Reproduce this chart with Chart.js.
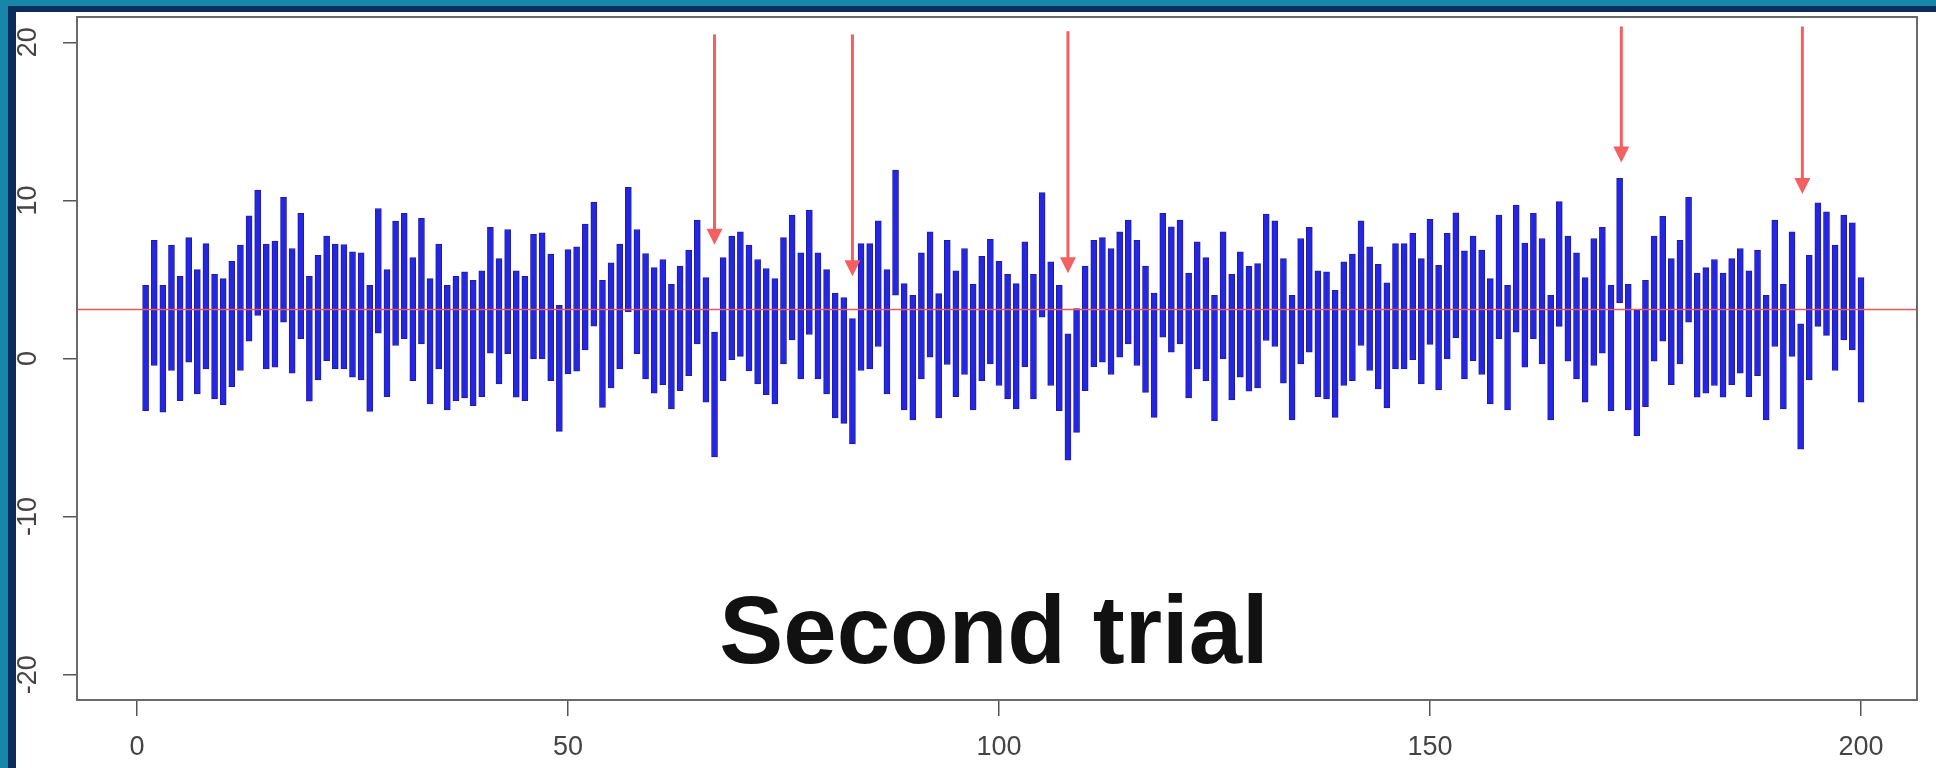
<!DOCTYPE html>
<html>
<head>
<meta charset="utf-8">
<script src="https://cdn.jsdelivr.net/npm/chart.js@4"></script>
<style>
  html, body { margin: 0; padding: 0; }
  body { width: 1936px; height: 768px; position: relative; overflow: hidden; background: #0b2d5b; }
  #edgeLeft { position: absolute; left: 0; top: 0; width: 8px; height: 768px; background: #1786a8; }
  #edgeTop { position: absolute; left: 0; top: 0; width: 1936px; height: 6px; background: #1786a8; }
  #panel { position: absolute; left: 16px; top: 12px; right: 0; bottom: 0; background: #fff; }
  #chart { position: absolute; left: 0; top: 0; }
  #title { position: absolute; left: 994px; top: 582px; transform: translateX(-50%);
           font: bold 96px "Liberation Sans", Arial, sans-serif; line-height: 96px; color: #111; white-space: nowrap; }
</style>
</head>
<body>
<div id="edgeLeft"></div>
<div id="edgeTop"></div>
<div id="panel"></div>
<canvas id="chart" width="1936" height="768"></canvas>
<div id="title">Second trial</div>
<script>
const highs = [
  4.63, 7.48, 4.63, 7.17, 5.2, 7.65, 5.62, 7.27, 5.33, 5.05,
  6.15, 7.17, 9.03, 10.66, 7.23, 7.42, 10.19, 6.96, 9.18, 5.2,
  6.53, 7.74, 7.23, 7.21, 6.74, 6.68, 4.63, 9.49, 5.62, 8.69,
  9.18, 6.38, 8.86, 5.05, 7.23, 4.63, 5.2, 5.48, 4.95, 5.54,
  8.29, 6.32, 8.16, 5.54, 5.2, 7.86, 7.95, 6.6, 3.36, 6.89,
  7.06, 8.5, 9.9, 4.95, 6.05, 7.23, 10.82, 8.16, 6.64, 5.75,
  6.26, 4.69, 5.84, 6.85, 8.75, 5.12, 1.67, 6.38, 7.74, 8.01,
  7.17, 6.26, 5.69, 5.05, 7.65, 9.07, 6.68, 9.39, 6.68, 5.62,
  4.14, 3.85, 2.52, 7.27, 7.27, 8.71, 5.62, 11.92, 4.74, 4.0,
  6.68, 8.01, 4.1, 7.48, 5.54, 6.96, 4.69, 6.47, 7.53, 6.15,
  5.33, 4.74, 7.38, 5.33, 10.49, 6.11, 4.63, 1.56, 3.15, 5.84,
  7.48, 7.65, 6.96, 8.01, 8.75, 7.48, 5.84, 4.14, 9.18, 8.33,
  8.75, 5.41, 7.38, 6.38, 4.0, 8.01, 5.33, 6.74, 5.84, 6.0,
  9.13, 8.71, 6.32, 4.0, 7.59, 8.29, 5.54, 5.48, 4.31, 6.11,
  6.6, 8.71, 7.06, 5.96, 4.78, 7.27, 7.27, 7.91, 6.32, 8.8,
  5.9, 7.91, 9.22, 6.81, 7.74, 6.85, 5.05, 9.07, 4.63, 9.7,
  7.3, 9.18, 7.59, 4.0, 9.92, 7.74, 6.68, 5.12, 7.59, 8.29,
  4.63, 11.4, 4.69, 3.04, 4.95, 7.74, 9.0, 6.32, 7.48, 10.19,
  5.41, 5.75, 6.26, 5.41, 6.32, 6.96, 5.54, 6.85, 4.0, 8.75,
  4.69, 8.01, 2.2, 6.53, 9.85, 9.28, 7.17, 9.07, 8.58, 5.12
];
const lows = [
  -3.3, -0.44, -3.4, -0.76, -2.66, -0.23, -2.24, -0.66, -2.56, -2.92,
  -1.78, -0.76, 1.1, 2.73, -0.66, -0.55, 2.3, -0.93, 1.25, -2.7,
  -1.35, -0.13, -0.66, -0.66, -1.18, -1.35, -3.34, 1.61, -2.41, 0.82,
  1.25, -1.4, 0.93, -2.88, -0.66, -3.26, -2.66, -2.49, -2.98, -2.41,
  0.34, -1.61, 0.3, -2.45, -2.66, -0.02, -0.02, -1.4, -4.61, -0.97,
  -0.8, 0.55, 2.05, -3.09, -1.86, -0.66, 2.94, 0.3, -1.29, -2.2,
  -1.65, -3.19, -2.03, -1.08, 0.93, -2.77, -6.22, -1.4, -0.08, 0.13,
  -0.78, -1.61, -2.28, -2.88, -0.34, 1.18, -1.29, 1.52, -1.29, -2.24,
  -3.76, -4.1, -5.41, -0.76, -0.66, 0.76, -2.24, 4.0, -3.26, -3.89,
  -1.29, 0.08, -3.76, -0.38, -2.41, -1.01, -3.26, -1.4, -0.34, -1.71,
  -2.56, -3.19, -0.51, -2.56, 2.62, -1.71, -3.3, -6.43, -4.67, -2.03,
  -0.51, -0.23, -1.01, 0.08, 0.93, -0.44, -2.14, -3.72, 1.35, 0.4,
  0.93, -2.49, -0.66, -1.4, -3.93, -0.02, -2.62, -1.18, -2.07, -1.86,
  1.14, 0.76, -1.56, -3.89, -0.34, 0.4, -2.41, -2.56, -3.72, -1.71,
  -1.4, 0.82, -0.76, -1.92, -3.13, -0.66, -0.66, -0.08, -1.61, 0.89,
  -1.99, -0.02, 1.31, -1.29, -0.13, -1.01, -2.88, 1.25, -3.26, 1.67,
  -0.55, 1.25, -0.34, -3.89, 2.03, -0.17, -1.29, -2.77, -0.44, 0.34,
  -3.3, 3.51, -3.26, -4.88, -3.04, -0.17, 1.1, -1.65, -0.34, 2.3,
  -2.45, -2.2, -1.71, -2.45, -1.65, -0.93, -2.41, -1.08, -3.89, 0.76,
  -3.19, 0.13, -5.73, -1.35, 2.03, 1.46, -0.76, 1.18, 0.55, -2.77
];
const meanLevel = 3.1;
const xTicks = [0, 50, 100, 150, 200];
const yTicks = [-20, -10, 0, 10, 20];
const arrowX = [67, 83, 108, 172.2, 193.2];
const arrowTop = [20.5, 20.5, 20.7, 21.0, 21.0];
const arrowTip = [7.2, 5.2, 5.4, 12.4, 10.4];

const xMin = -6.96, xMax = 206.5;
const yMin = -21.6, yMax = 21.6;

const bars = highs.map((h, i) => ({ x: i + 1, y: [lows[i], h] }));

const framePlugin = {
  id: 'frame',
  afterDatasetsDraw(chart) {
    const ctx = chart.ctx;
    const a = chart.chartArea;
    const xs = chart.scales.x, ys = chart.scales.y;
    ctx.save();
    // box
    ctx.strokeStyle = '#6a6a6a';
    ctx.lineWidth = 2;
    ctx.strokeRect(a.left, a.top, a.right - a.left, a.bottom - a.top);
    // arrows
    ctx.strokeStyle = '#f46060';
    ctx.fillStyle = '#f46060';
    ctx.lineWidth = 3;
    for (let i = 0; i < arrowX.length; i++) {
      const px = xs.getPixelForValue(arrowX[i]);
      const y0 = ys.getPixelForValue(arrowTop[i]);
      const y1 = ys.getPixelForValue(arrowTip[i]);
      ctx.beginPath();
      ctx.moveTo(px, y0);
      ctx.lineTo(px, y1 - 14);
      ctx.stroke();
      ctx.beginPath();
      ctx.moveTo(px - 8, y1 - 16);
      ctx.lineTo(px + 8, y1 - 16);
      ctx.lineTo(px, y1);
      ctx.closePath();
      ctx.fill();
    }
    // y labels, rotated like R
    ctx.fillStyle = '#444';
    ctx.font = '27px "Liberation Sans", Arial, sans-serif';
    ctx.textAlign = 'center';
    ctx.textBaseline = 'middle';
    yTicks.forEach(v => {
      const py = ys.getPixelForValue(v);
      ctx.save();
      ctx.translate(29, py);
      ctx.rotate(-Math.PI / 2);
      ctx.fillText(String(v), 0, 0);
      ctx.restore();
    });
    ctx.restore();
  }
};

new Chart(document.getElementById('chart'), {
  type: 'bar',
  data: {
    datasets: [
      {
        type: 'line',
        data: [{ x: xMin, y: meanLevel }, { x: xMax, y: meanLevel }],
        borderColor: '#e85858',
        borderWidth: 1.5,
        pointRadius: 0,
        order: 0
      },
      {
        type: 'bar',
        data: bars,
        backgroundColor: '#2626e2',
        borderColor: '#1c1ca8',
        borderWidth: 1,
        borderSkipped: false,
        barThickness: 6,
        order: 1
      }
    ]
  },
  options: {
    responsive: false,
    animation: false,
    devicePixelRatio: 1,
    layout: { padding: { top: 17, right: 19, left: 0, bottom: 0 } },
    plugins: { legend: { display: false }, tooltip: { enabled: false } },
    scales: {
      x: {
        type: 'linear',
        offset: false,
        min: xMin,
        max: xMax,
        afterBuildTicks: s => { s.ticks = xTicks.map(v => ({ value: v })); },
        afterFit: s => { s.height = 68; },
        grid: { display: true, offset: false, drawOnChartArea: false, drawTicks: true, tickLength: 16, color: '#555', lineWidth: 1.5 },
        border: { display: false },
        ticks: { color: '#444', font: { family: '"Liberation Sans", Arial, sans-serif', size: 27 }, padding: 15, maxRotation: 0 }
      },
      y: {
        type: 'linear',
        min: yMin,
        max: yMax,
        afterBuildTicks: s => { s.ticks = yTicks.map(v => ({ value: v })); },
        afterFit: s => { s.width = 77; },
        grid: { display: true, drawOnChartArea: false, drawTicks: true, tickLength: 14, color: '#555', lineWidth: 1.5 },
        border: { display: false },
        ticks: { callback: () => '', padding: 0 }
      }
    }
  },
  plugins: [framePlugin]
});
</script>
</body>
</html>
